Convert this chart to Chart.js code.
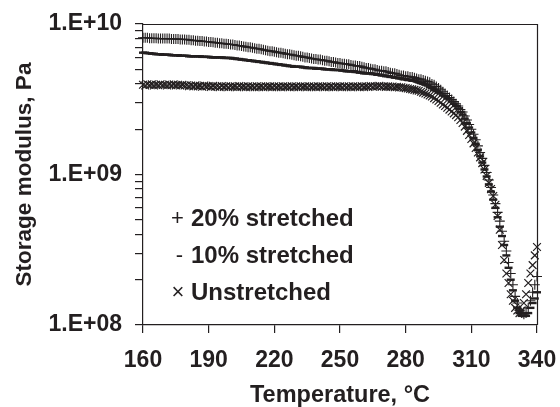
<!DOCTYPE html>
<html><head><meta charset="utf-8">
<script src="https://cdn.jsdelivr.net/npm/chart.js@4.4.1/dist/chart.umd.min.js"></script>
<style>html,body{margin:0;padding:0;background:#fff;}#wrap{width:560px;height:407px;}</style>
</head><body><div id="wrap"><canvas id="c" width="560" height="407"></canvas></div>
<script>
const temperatures = [
 160,161,162,163,164,165,166,167,168,169,170,171,172,173,174,175,176,177,178,179,
 180,181,182,183,184,185,186,187,188,189,190,191,192,193,194,195,196,197,198,199,
 200,201,202,203,204,205,206,207,208,209,210,211,212,213,214,215,216,217,218,219,
 220,221,222,223,224,225,226,227,228,229,230,231,232,233,234,235,236,237,238,239,
 240,241,242,243,244,245,246,247,248,249,250,251,252,253,254,255,256,257,258,259,
 260,261,262,263,264,265,266,267,268,269,270,271,272,273,274,275,276,277,278,279,
 280,281,282,283,284,285,286,287,288,289,290,291,292,293,294,295,296,297,298,299,
 300,301,302,303,304,305,306,307,308,309,310,311,312,313,314,315,316,317,318,319,
 320,321,322,323,324,325,326,327,328,329,330,331,332,333,334,335,336,337,338,339,340];
const stretched20 = [
 8.1e9,8.1e9,8.1e9,8.05e9,8.05e9,8.05e9,8.05e9,8.0e9,8.0e9,8.0e9,
 8.0e9,8.0e9,8.0e9,7.95e9,7.95e9,7.95e9,7.95e9,7.9e9,7.9e9,7.9e9,
 7.85e9,7.85e9,7.8e9,7.8e9,7.75e9,7.75e9,7.7e9,7.7e9,7.65e9,7.65e9,
 7.6e9,7.6e9,7.55e9,7.5e9,7.5e9,7.45e9,7.45e9,7.4e9,7.4e9,7.35e9,
 7.3e9,7.3e9,7.25e9,7.2e9,7.2e9,7.15e9,7.1e9,7.05e9,7.0e9,7.0e9,
 6.95e9,6.9e9,6.85e9,6.85e9,6.8e9,6.75e9,6.7e9,6.65e9,6.6e9,6.6e9,
 6.55e9,6.5e9,6.45e9,6.45e9,6.4e9,6.35e9,6.3e9,6.3e9,6.25e9,6.2e9,
 6.15e9,6.15e9,6.1e9,6.05e9,6.0e9,6.0e9,5.95e9,5.9e9,5.85e9,5.85e9,
 5.8e9,5.8e9,5.75e9,5.7e9,5.7e9,5.65e9,5.6e9,5.6e9,5.55e9,5.5e9,
 5.5e9,5.45e9,5.45e9,5.4e9,5.4e9,5.35e9,5.3e9,5.3e9,5.25e9,5.25e9,
 5.2e9,5.15e9,5.1e9,5.1e9,5.05e9,5.0e9,5.0e9,4.95e9,4.9e9,4.9e9,
 4.85e9,4.85e9,4.8e9,4.75e9,4.7e9,4.7e9,4.65e9,4.6e9,4.55e9,4.55e9,
 4.5e9,4.5e9,4.45e9,4.45e9,4.4e9,4.35e9,4.3e9,4.3e9,4.25e9,4.2e9,
 4.15e9,4.1e9,4.0e9,3.95e9,3.85e9,3.75e9,3.65e9,3.55e9,3.45e9,3.35e9,
 3.25e9,3.15e9,3.05e9,2.95e9,2.85e9,2.7e9,2.6e9,2.45e9,2.3e9,2.15e9,
 2.0e9,1.85e9,1.7e9,1.55e9,1.4e9,1.28e9,1.15e9,1.03e9,9.2e8,8.2e8,
 7.3e8,6.4e8,5.6e8,4.9e8,4.2e8,3.6e8,3.1e8,2.6e8,2.2e8,1.85e8,
 1.55e8,1.4e8,1.25e8,1.2e8,1.18e8,1.2e8,1.3e8,1.45e8,1.65e8,1.85e8,
 2.1e8];
const stretched10 = [
 6.45e9,6.45e9,6.4e9,6.4e9,6.35e9,6.35e9,6.3e9,6.3e9,6.3e9,6.25e9,
 6.25e9,6.25e9,6.25e9,6.2e9,6.2e9,6.2e9,6.2e9,6.15e9,6.15e9,6.15e9,
 6.15e9,6.1e9,6.1e9,6.1e9,6.1e9,6.1e9,6.1e9,6.05e9,6.05e9,6.05e9,
 6.05e9,6.0e9,6.0e9,6.0e9,6.0e9,6.0e9,6.0e9,5.95e9,5.95e9,5.95e9,
 5.95e9,5.9e9,5.9e9,5.85e9,5.85e9,5.8e9,5.8e9,5.75e9,5.75e9,5.7e9,
 5.7e9,5.65e9,5.65e9,5.6e9,5.6e9,5.55e9,5.55e9,5.5e9,5.5e9,5.45e9,
 5.45e9,5.4e9,5.4e9,5.35e9,5.35e9,5.3e9,5.3e9,5.25e9,5.25e9,5.2e9,
 5.2e9,5.2e9,5.2e9,5.15e9,5.15e9,5.1e9,5.1e9,5.1e9,5.1e9,5.05e9,
 5.05e9,5.05e9,5.05e9,5.0e9,5.0e9,5.0e9,5.0e9,4.95e9,4.95e9,4.95e9,
 4.95e9,4.9e9,4.9e9,4.85e9,4.85e9,4.85e9,4.85e9,4.8e9,4.8e9,4.75e9,
 4.75e9,4.7e9,4.7e9,4.7e9,4.7e9,4.65e9,4.65e9,4.6e9,4.6e9,4.55e9,
 4.55e9,4.5e9,4.5e9,4.45e9,4.45e9,4.4e9,4.4e9,4.35e9,4.35e9,4.3e9,
 4.3e9,4.25e9,4.25e9,4.2e9,4.2e9,4.15e9,4.1e9,4.05e9,4.0e9,3.95e9,
 3.9e9,3.8e9,3.75e9,3.65e9,3.6e9,3.5e9,3.45e9,3.35e9,3.3e9,3.2e9,
 3.15e9,3.05e9,2.95e9,2.85e9,2.75e9,2.6e9,2.5e9,2.35e9,2.2e9,2.05e9,
 1.9e9,1.75e9,1.6e9,1.45e9,1.32e9,1.2e9,1.08e9,9.7e8,8.6e8,7.7e8,
 6.8e8,6.0e8,5.2e8,4.5e8,3.9e8,3.4e8,2.9e8,2.4e8,2.0e8,1.7e8,
 1.45e8,1.3e8,1.2e8,1.15e8,1.15e8,1.15e8,1.2e8,1.3e8,1.4e8,1.5e8,
 1.65e8];
const unstretched = [
 3.95e9,3.9e9,3.98e9,3.93e9,3.97e9,3.9e9,3.95e9,3.92e9,3.98e9,3.93e9,
 3.95e9,3.9e9,3.96e9,3.92e9,3.97e9,3.91e9,3.95e9,3.9e9,3.94e9,3.9e9,
 3.92e9,3.86e9,3.9e9,3.85e9,3.91e9,3.85e9,3.88e9,3.83e9,3.9e9,3.85e9,
 3.87e9,3.82e9,3.88e9,3.83e9,3.86e9,3.81e9,3.87e9,3.82e9,3.86e9,3.8e9,
 3.86e9,3.82e9,3.85e9,3.8e9,3.87e9,3.82e9,3.85e9,3.8e9,3.86e9,3.81e9,
 3.85e9,3.8e9,3.86e9,3.81e9,3.85e9,3.8e9,3.86e9,3.82e9,3.85e9,3.8e9,
 3.86e9,3.81e9,3.85e9,3.8e9,3.86e9,3.82e9,3.85e9,3.8e9,3.86e9,3.81e9,
 3.85e9,3.8e9,3.86e9,3.82e9,3.85e9,3.8e9,3.86e9,3.81e9,3.85e9,3.8e9,
 3.86e9,3.82e9,3.85e9,3.8e9,3.86e9,3.81e9,3.85e9,3.8e9,3.86e9,3.82e9,
 3.85e9,3.8e9,3.86e9,3.81e9,3.85e9,3.8e9,3.86e9,3.82e9,3.85e9,3.8e9,
 3.86e9,3.81e9,3.85e9,3.82e9,3.87e9,3.83e9,3.86e9,3.84e9,3.88e9,3.83e9,
 3.86e9,3.82e9,3.85e9,3.82e9,3.84e9,3.8e9,3.82e9,3.79e9,3.8e9,3.77e9,
 3.75e9,3.73e9,3.7e9,3.68e9,3.65e9,3.62e9,3.6e9,3.55e9,3.5e9,3.45e9,
 3.4e9,3.35e9,3.3e9,3.22e9,3.15e9,3.08e9,3.0e9,2.92e9,2.85e9,2.78e9,
 2.7e9,2.62e9,2.55e9,2.48e9,2.4e9,2.3e9,2.2e9,2.08e9,1.95e9,1.83e9,
 1.72e9,1.61e9,1.5e9,1.4e9,1.3e9,1.19e9,1.08e9,9.8e8,8.8e8,8.0e8,
 7.2e8,6.3e8,5.3e8,4.3e8,3.4e8,2.7e8,2.2e8,1.9e8,1.6e8,1.45e8,
 1.3e8,1.25e8,1.2e8,1.25e8,1.4e8,1.6e8,1.9e8,2.2e8,2.5e8,2.9e8,
 3.3e8];
const seriesLabels = ['20% stretched', '10% stretched', 'Unstretched'];
const legendMarks = ['+', '-', '\u00d7'];
const xTicks = [160,190,220,250,280,310,340];
const yTicks = [1e8,2e8,3e8,4e8,5e8,6e8,7e8,8e8,9e8,1e9,2e9,3e9,4e9,5e9,6e9,7e9,8e9,9e9,1e10];
const yTickLabels = {1e8:'1.E+08', 1e9:'1.E+09', 1e10:'1.E+10'};
const xTitle = 'Temperature, \u00b0C';
const yTitle = 'Storage modulus, Pa';

const INK = '#231f20';
const FONT = '"Liberation Sans", Arial, sans-serif';
const toPts = vals => temperatures.map((t, i) => ({x: t, y: vals[i]}));

const framePlugin = {
  id: 'frame',
  afterDraw(chart) {
    const {ctx, chartArea: a} = chart;
    ctx.save();
    ctx.strokeStyle = INK; ctx.lineWidth = 1.2;
    ctx.beginPath();
    ctx.moveTo(a.left, a.top + 0.5); ctx.lineTo(a.right + 0.5, a.top + 0.5); ctx.lineTo(a.right + 0.5, a.bottom);
    ctx.stroke();
    ctx.restore();
  }
};
const legendPlugin = {
  id: 'textLegend',
  afterDraw(chart) {
    const {ctx} = chart;
    const rows = [219, 256, 293];
    const markX = [177.5, 179.5, 178];
    ctx.save();
    ctx.fillStyle = INK; ctx.textBaseline = 'middle';
    chart.data.datasets.forEach((ds, i) => {
      ctx.font = '400 22px ' + FONT; ctx.textAlign = 'center';
      ctx.fillText(legendMarks[i], markX[i], rows[i]);
      ctx.font = 'bold 24px ' + FONT; ctx.textAlign = 'left';
      ctx.fillText(ds.label, 191, rows[i]);
    });
    ctx.restore();
  }
};
const noEdgePadding = s => { s.paddingLeft = 0; s.paddingRight = 0; s.paddingTop = 0; s.paddingBottom = 0; };

const common = {showLine: false, pointBackgroundColor: 'rgba(0,0,0,0)', pointBorderColor: INK, borderColor: INK, clip: false, pointHoverRadius: 0};
const chart = new Chart(document.getElementById('c'), {
  type: 'scatter',
  data: {datasets: [
    Object.assign({label: seriesLabels[0], data: toPts(stretched20), pointStyle: 'cross', pointRadius: 5, pointBorderWidth: 1.1}, common),
    Object.assign({label: seriesLabels[1], data: toPts(stretched10), pointStyle: 'line', pointRadius: 4, pointBorderWidth: 2.4}, common),
    Object.assign({label: seriesLabels[2], data: toPts(unstretched), pointStyle: 'crossRot', pointRadius: 5.5, pointBorderWidth: 1.2}, common)
  ]},
  options: {
    responsive: false, devicePixelRatio: 1, animation: false,
    events: [],
    layout: {padding: {top: 24, right: 23, left: 0, bottom: 0}},
    plugins: {legend: {display: false}, tooltip: {enabled: false}},
    scales: {
      x: {
        type: 'linear', min: 160, max: 340,
        afterBuildTicks: s => { s.ticks = xTicks.map(v => ({value: v})); },
        afterFit: s => { s.height = 82; noEdgePadding(s); },
        grid: {drawOnChartArea: false, drawTicks: true, tickLength: 8, color: INK, lineWidth: 1.2},
        border: {display: true, color: INK, width: 1.2},
        ticks: {color: INK, padding: 14, font: {family: FONT, size: 23, weight: 'bold'}, maxRotation: 0, autoSkip: false},
        title: {display: true, text: xTitle, color: INK, padding: {top: 0, bottom: 0}, font: {family: FONT, size: 23.5, weight: 'bold', lineHeight: 1}}
      },
      y: {
        type: 'logarithmic', min: 1e8, max: 1e10,
        afterBuildTicks: s => { s.ticks = yTicks.map(v => ({value: v})); },
        afterFit: s => { s.width = 143; noEdgePadding(s); },
        grid: {drawOnChartArea: false, drawTicks: true, tickLength: 8, color: INK, lineWidth: 1.2},
        border: {display: true, color: INK, width: 1.2},
        ticks: {color: INK, padding: 13, autoSkip: false, font: {family: FONT, size: 23, weight: 'bold'},
          callback: v => yTickLabels[v] || ''},
        title: {display: true, text: yTitle, color: INK, padding: {top: 14, bottom: 0}, font: {family: FONT, size: 22.5, weight: 'bold', lineHeight: 1}}
      }
    }
  },
  plugins: [framePlugin, legendPlugin]
});
// fit the plot area to the reference frame (left 143, right 537, top 24, bottom 325)
for (let k = 0; k < 3; k++) {
  const a = chart.chartArea;
  const p = chart.options.layout.padding;
  chart.options.layout.padding = {
    top: p.top + (24 - a.top),
    right: p.right + (a.right - 537),
    left: p.left + (143 - a.left),
    bottom: p.bottom + (a.bottom - 325)
  };
  chart.update();
}
</script></body></html>
